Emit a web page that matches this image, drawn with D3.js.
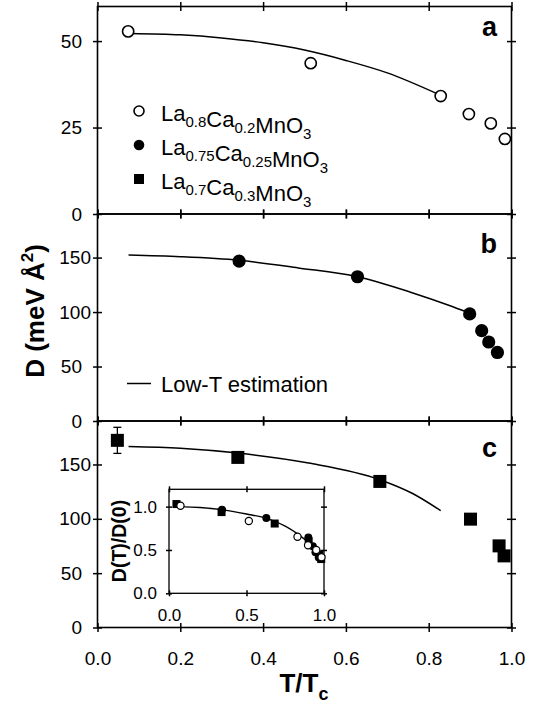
<!DOCTYPE html>
<html>
<head>
<meta charset="utf-8">
<script src="https://cdn.jsdelivr.net/npm/d3@7"></script>
<style>
  body { margin: 0; background: #fff; }
  svg { font-family: "Liberation Sans", Arial, Helvetica, sans-serif; }
  .tick text { font-size: 19px; fill: #000; }
  .inset .tick text { font-size: 17px; }
  .tick line { stroke: #000; stroke-width: 1.5; }
</style>
</head>
<body>
<svg id="chart" width="538" height="704"></svg>
<script>
// ticks
const xTickVals = [0, 0.2, 0.4, 0.6, 0.8, 1.0];
const aTicks = [0, 25, 50];
const bcTicks = [0, 50, 100, 150];
const insXTicks = [0, 0.5, 1.0];
const insYTicks = [0, 0.5, 1.0];

// panel a : La0.8Ca0.2MnO3
const aT = [0.074, 0.515, 0.829, 0.897, 0.950, 0.984];
const aD = [52.8, 43.6, 34.1, 28.9, 26.2, 21.7];
const aFitT = [0.08, 0.2, 0.3, 0.4, 0.5, 0.6, 0.7, 0.82];
const aFitD = [52.2, 51.8, 50.9, 49.5, 47.4, 44.4, 40.8, 34.8];

// panel b : La0.75Ca0.25MnO3
const bT = [0.342, 0.628, 0.899, 0.928, 0.945, 0.966];
const bD = [146.8, 132.4, 98.3, 82.9, 72.5, 62.9];
const bFitT = [0.075, 0.2, 0.342, 0.485, 0.628, 0.758, 0.85, 0.895];
const bFitD = [152.3, 150.8, 147.5, 140.5, 132.4, 118, 106, 99.5];

// panel c : La0.7Ca0.3MnO3
const cT = [0.048, 0.339, 0.682, 0.901, 0.970, 0.982];
const cD = [172.2, 156.5, 134.4, 99.7, 75.1, 65.9];
const cErr = [12, 0, 0, 0, 0, 0];
const cFitT = [0.075, 0.2, 0.339, 0.51, 0.682, 0.76, 0.829];
const cFitD = [166.6, 165.0, 160.5, 151.3, 136.0, 123.5, 107.5];

// inset : D(T)/D(0)
const insA = [1.01, 0.834, 0.652, 0.553, 0.50, 0.415];
const insB = [0.963, 0.868, 0.645, 0.544, 0.475, 0.412];
const insC = [1.03, 0.937, 0.805, 0.597, 0.45, 0.395];
const insFitT = [0.06, 0.2, 0.34, 0.5, 0.63, 0.75, 0.834, 0.9, 0.95, 0.99];
const insFitD = [1.0, 0.99, 0.965, 0.915, 0.865, 0.775, 0.68, 0.585, 0.505, 0.42];

const legendLabels = ["La0.8Ca0.2MnO3", "La0.75Ca0.25MnO3", "La0.7Ca0.3MnO3"];
const fitLabel = "Low-T estimation";

const svg = d3.select('#chart');
const left = 97.5, right = 511.5;
const x = d3.scaleLinear().domain([0, 1]).range([left, right]);

const panels = [
    { top: 6.5, bottom: 214, max: 60, ticks: aTicks, T: aT, D: aD, fT: aFitT, fD: aFitD, letter: 'a', ly: 36 },
    { top: 214, bottom: 421, max: 190, ticks: bcTicks, T: bT, D: bD, fT: bFitT, fD: bFitD, letter: 'b', ly: 253 },
    { top: 421, bottom: 627.5, max: 190, ticks: bcTicks, T: cT, D: cD, fT: cFitT, fD: cFitD, letter: 'c', ly: 457 }
];

const line = d3.line().curve(d3.curveMonotoneX);

function crossTicks(g, axisFn, scale, vals, size) {
    // outer ticks + inner ticks so marks cross the line
    g.append('g').call(axisFn(scale).tickValues(vals).tickSize(size).tickFormat(''))
        .call(s => s.select('.domain').remove());
    g.append('g').call(axisFn(scale).tickValues(vals).tickSize(-size).tickFormat(''))
        .call(s => s.select('.domain').remove());
}

panels.forEach((p, i) => {
    const y = d3.scaleLinear().domain([0, p.max]).range([p.bottom, p.top]);
    p.y = y;
    const g = svg.append('g');

    // frame
    g.append('rect').attr('x', left).attr('y', p.top)
        .attr('width', right - left).attr('height', p.bottom - p.top)
        .attr('fill', 'none').attr('stroke', '#000').attr('stroke-width', 1.6);

    // y ticks left / right
    const gl = g.append('g').attr('transform', `translate(${left},0)`);
    crossTicks(gl, d3.axisLeft, y, p.ticks, 4.5);
    gl.append('g').call(d3.axisLeft(y).tickValues(p.ticks).tickSize(4.5).tickPadding(11))
        .call(s => s.select('.domain').remove())
        .call(s => s.selectAll('line').remove())
        .selectAll('text').attr('dx', d => d >= 100 ? 9 : 0);
    const gr = g.append('g').attr('transform', `translate(${right},0)`);
    crossTicks(gr, d3.axisRight, y, p.ticks, 4.5);

    // x ticks top / bottom
    const gt = g.append('g').attr('transform', `translate(0,${p.top})`);
    crossTicks(gt, d3.axisTop, x, xTickVals, 4.5);
    const gb = g.append('g').attr('transform', `translate(0,${p.bottom})`);
    crossTicks(gb, d3.axisBottom, x, xTickVals, 4.5);
    if (i === 2) {
        gb.append('g').call(d3.axisBottom(x).tickValues(xTickVals).tickSize(4.5).tickPadding(19.5)
                .tickFormat(d3.format('.1f')))
            .call(s => s.select('.domain').remove())
            .call(s => s.selectAll('line').remove());
    }

    // fit curve
    g.append('path')
        .attr('d', line(p.fT.map((t, k) => [x(t), y(p.fD[k])])))
        .attr('fill', 'none').attr('stroke', '#000').attr('stroke-width', 1.5);

    // panel letter
    g.append('text').attr('x', 497).attr('y', p.ly)
        .attr('text-anchor', 'end').attr('font-weight', 'bold').attr('font-size', 27)
        .text(p.letter);
});

// markers
function openCircle(sel, r, sw) {
    return sel.append('circle').attr('r', r).attr('fill', '#fff')
        .attr('stroke', '#000').attr('stroke-width', sw);
}

const pa = panels[0], pb = panels[1], pc = panels[2];
pa.T.forEach((t, k) => {
    openCircle(svg, 5.6, 1.6).attr('cx', x(t)).attr('cy', pa.y(pa.D[k]));
});
pb.T.forEach((t, k) => {
    svg.append('circle').attr('r', 6.6).attr('fill', '#000')
        .attr('cx', x(t)).attr('cy', pb.y(pb.D[k]));
});
pc.T.forEach((t, k) => {
    if (cErr[k] > 0) {
        const eg = svg.append('g').attr('stroke', '#000').attr('stroke-width', 1.3);
        eg.append('line').attr('x1', x(t)).attr('x2', x(t))
            .attr('y1', pc.y(pc.D[k] - cErr[k])).attr('y2', pc.y(pc.D[k] + cErr[k]));
        [-1, 1].forEach(sg => {
            eg.append('line').attr('x1', x(t) - 4).attr('x2', x(t) + 4)
                .attr('y1', pc.y(pc.D[k] + sg * cErr[k])).attr('y2', pc.y(pc.D[k] + sg * cErr[k]));
        });
    }
    svg.append('rect').attr('width', 13).attr('height', 13).attr('fill', '#000')
        .attr('x', x(t) - 6.5).attr('y', pc.y(pc.D[k]) - 6.5);
});

// legend text with subscripts
function chemText(sel, str, size, subSize) {
    const parts = str.split(/(\d+(?:\.\d+)?)/).filter(s => s !== '');
    parts.forEach(s => {
        const isSub = /^\d/.test(s);
        sel.append('tspan').attr('font-size', isSub ? subSize : size)
            .attr('dy', isSub ? 6 : 0).text(s);
        if (isSub) sel.append('tspan').attr('font-size', size).attr('dy', -6).text('');
    });
}

const legRows = [111, 145, 179];
legendLabels.forEach((lab, k) => {
    const cy = legRows[k];
    if (k === 0) openCircle(svg, 5, 1.6).attr('cx', 139).attr('cy', cy);
    if (k === 1) svg.append('circle').attr('r', 5.3).attr('fill', '#000').attr('cx', 139).attr('cy', cy);
    if (k === 2) svg.append('rect').attr('width', 10).attr('height', 10).attr('fill', '#000')
        .attr('x', 134).attr('y', cy - 5);
    const t = svg.append('text').attr('x', 161).attr('y', cy + 10);
    chemText(t, lab, 22, 15);
});

svg.append('line').attr('x1', 127).attr('x2', 151).attr('y1', 383.5).attr('y2', 383.5)
    .attr('stroke', '#000').attr('stroke-width', 1.5);
svg.append('text').attr('x', 161).attr('y', 391.5).attr('font-size', 22).text(fitLabel);

// axis titles
const yt = svg.append('text').attr('transform', 'translate(44,311) rotate(-90)')
    .attr('text-anchor', 'middle').attr('font-weight', 'bold').attr('font-size', 26);
yt.append('tspan').text('D (meV Å');
yt.append('tspan').attr('font-size', 17).attr('dy', -11).text('2');
yt.append('tspan').attr('dy', 11).text(')');

const xt = svg.append('text').attr('x', 304).attr('y', 692)
    .attr('text-anchor', 'middle').attr('font-weight', 'bold').attr('font-size', 26);
xt.append('tspan').text('T/T');
xt.append('tspan').attr('font-size', 18).attr('dy', 8).text('c');

// inset
const ix = d3.scaleLinear().domain([0, 1]).range([169, 324]);
const iy = d3.scaleLinear().domain([0, 1.2]).range([593.3, 489.3]);
const ig = svg.append('g').attr('class', 'inset');
ig.append('rect').attr('x', 169).attr('y', 489.3).attr('width', 155).attr('height', 104)
    .attr('fill', '#fff').attr('stroke', '#000').attr('stroke-width', 1.3);
ig.selectAll('.tick line').attr('stroke-width', 1.2);
const il = ig.append('g').attr('transform', 'translate(169,0)');
crossTicks(il, d3.axisLeft, iy, insYTicks, 3);
il.append('g').call(d3.axisLeft(iy).tickValues(insYTicks).tickSize(3).tickPadding(9)
        .tickFormat(d3.format('.1f')))
    .call(s => s.select('.domain').remove())
    .call(s => s.selectAll('line').remove());
const ir = ig.append('g').attr('transform', 'translate(324,0)');
crossTicks(ir, d3.axisRight, iy, insYTicks, 3);
const itp = ig.append('g').attr('transform', 'translate(0,489.3)');
crossTicks(itp, d3.axisTop, ix, insXTicks, 3);
const ib = ig.append('g').attr('transform', 'translate(0,593.3)');
crossTicks(ib, d3.axisBottom, ix, insXTicks, 3);
ib.append('g').call(d3.axisBottom(ix).tickValues(insXTicks).tickSize(3).tickPadding(13)
        .tickFormat(d3.format('.1f')))
    .call(s => s.select('.domain').remove())
    .call(s => s.selectAll('line').remove());
ig.selectAll('.tick line').attr('stroke-width', 1.2);

ig.append('path')
    .attr('d', line(insFitT.map((t, k) => [ix(t), iy(insFitD[k])])))
    .attr('fill', 'none').attr('stroke', '#000').attr('stroke-width', 1.3);

cT.forEach((t, k) => {
    ig.append('rect').attr('width', 8).attr('height', 8).attr('fill', '#000')
        .attr('x', ix(t) - 4).attr('y', iy(insC[k]) - 4);
});
bT.forEach((t, k) => {
    ig.append('circle').attr('r', 4).attr('fill', '#000').attr('cx', ix(t)).attr('cy', iy(insB[k]));
});
aT.forEach((t, k) => {
    openCircle(ig, 3.6, 1.2).attr('cx', ix(t)).attr('cy', iy(insA[k]));
});

ig.append('text').attr('transform', 'translate(126,541) rotate(-90)')
    .attr('text-anchor', 'middle').attr('font-weight', 'bold').attr('font-size', 19.5)
    .text('D(T)/D(0)');
</script>
</body>
</html>
